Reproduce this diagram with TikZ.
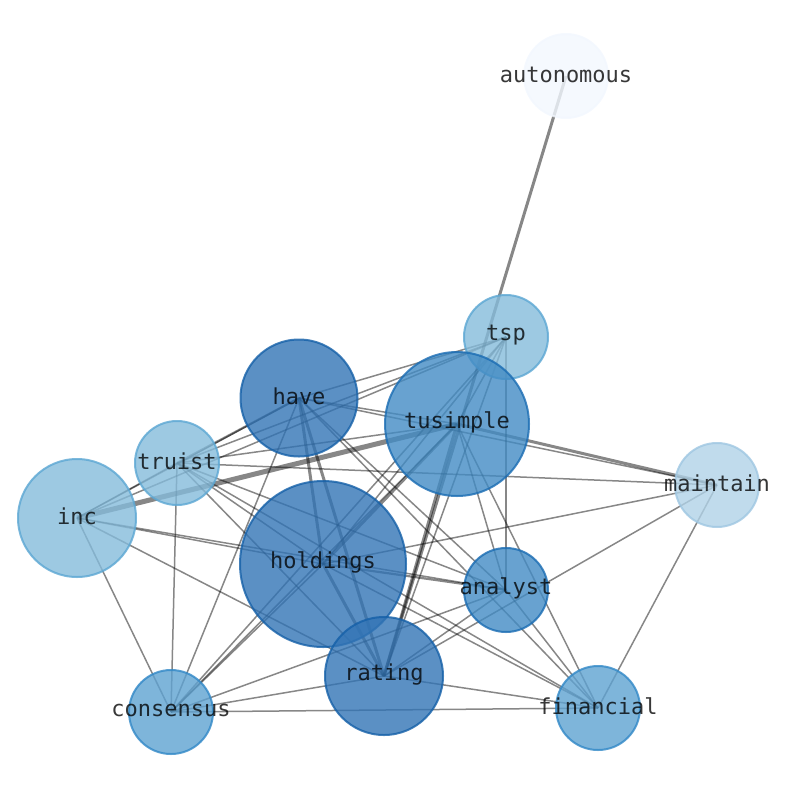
\documentclass[tikz,border=0pt]{standalone}
\usepackage{fontspec}
\setmonofont{DejaVu Sans Mono}
\usetikzlibrary{backgrounds}
\definecolor{fA}{HTML}{F2F7FE}\definecolor{oA}{HTML}{F2F7FE}
\definecolor{fM}{HTML}{B0D2E7}\definecolor{oM}{HTML}{9FC7E2}
\definecolor{fL}{HTML}{84BBDB}\definecolor{oL}{HTML}{5CA7D3}
\definecolor{fC}{HTML}{5EA2D1}\definecolor{oC}{HTML}{3188C7}
\definecolor{fT}{HTML}{428BC4}\definecolor{oT}{HTML}{1A6CB3}
\definecolor{fD}{HTML}{3274B5}\definecolor{oD}{HTML}{1560A8}
\begin{document}
\begin{tikzpicture}[x=1pt,y=-1pt,
  edge/.style={draw=black,draw opacity=0.47,line width=1.5pt},
  w2/.style={line width=2.2pt},
  w3/.style={line width=3pt},
  w5/.style={line width=5pt},
  nd/.style={circle,inner sep=0pt,fill opacity=0.8,draw opacity=0.8,line width=2pt},
  lab/.style={text=black,text opacity=0.78,inner sep=0pt,font=\ttfamily\fontsize{22}{24}\selectfont}]
\useasboundingbox (0,0) rectangle (794,790);
\node[nd,minimum size=84pt,fill=fA,draw=oA] (autonomous) at (566,76) {};
\node[nd,minimum size=84pt,fill=fL,draw=oL] (tsp) at (506,337) {};
\node[nd,minimum size=117pt,fill=fD,draw=oD] (have) at (299,398) {};
\node[nd,minimum size=144pt,fill=fT,draw=oT] (tusimple) at (457,424) {};
\node[nd,minimum size=84pt,fill=fL,draw=oL] (truist) at (177,463) {};
\node[nd,minimum size=118pt,fill=fL,draw=oL] (inc) at (77,518) {};
\node[nd,minimum size=84pt,fill=fM,draw=oM] (maintain) at (717,485) {};
\node[nd,minimum size=166pt,fill=fD,draw=oD] (holdings) at (323,564) {};
\node[nd,minimum size=84pt,fill=fT,draw=oT] (analyst) at (506,590) {};
\node[nd,minimum size=118pt,fill=fD,draw=oD] (rating) at (384,676) {};
\node[nd,minimum size=84pt,fill=fC,draw=oC] (consensus) at (171,712) {};
\node[nd,minimum size=84pt,fill=fC,draw=oC] (financial) at (598,708) {};
\node[lab] (l-autonomous) at ([yshift=1.5pt]autonomous.center) {autonomous};
\node[lab] (l-tsp) at ([yshift=1.5pt]tsp.center) {tsp};
\node[lab] (l-have) at ([yshift=1.5pt]have.center) {have};
\node[lab] (l-tusimple) at ([yshift=1.5pt]tusimple.center) {tusimple};
\node[lab] (l-truist) at ([yshift=1.5pt]truist.center) {truist};
\node[lab] (l-inc) at ([yshift=1.5pt]inc.center) {inc};
\node[lab] (l-maintain) at ([yshift=1.5pt]maintain.center) {maintain};
\node[lab] (l-holdings) at ([yshift=1.5pt]holdings.center) {holdings};
\node[lab] (l-analyst) at ([yshift=1.5pt]analyst.center) {analyst};
\node[lab] (l-rating) at ([yshift=1.5pt]rating.center) {rating};
\node[lab] (l-consensus) at ([yshift=1.5pt]consensus.center) {consensus};
\node[lab] (l-financial) at ([yshift=1.5pt]financial.center) {financial};
\begin{scope}[on background layer]
\foreach \a/\b/\s in {autonomous/rating/w3, inc/tusimple/w5, tusimple/maintain/w3,
  have/maintain/edge, have/tusimple/edge, tsp/have/edge, tsp/truist/edge, tsp/inc/edge,
  tsp/tusimple/edge, tsp/holdings/edge, tsp/rating/edge, tsp/analyst/edge, tsp/consensus/edge,
  tusimple/holdings/w3, tusimple/rating/w3, tusimple/analyst/edge, tusimple/financial/edge,
  tusimple/consensus/edge, tusimple/truist/edge,
  have/truist/w2, have/inc/edge, have/holdings/w3, have/rating/w3, have/analyst/edge,
  have/financial/edge, have/consensus/edge,
  truist/inc/edge, truist/maintain/edge, truist/holdings/edge, truist/analyst/edge,
  truist/rating/edge, truist/financial/edge, truist/consensus/edge,
  inc/holdings/edge, inc/analyst/edge, inc/rating/edge, inc/consensus/edge,
  holdings/maintain/edge, holdings/analyst/w2, holdings/rating/w3, holdings/financial/edge,
  holdings/consensus/edge, maintain/rating/edge, maintain/financial/edge,
  analyst/rating/edge, analyst/financial/edge, analyst/consensus/edge,
  rating/consensus/edge, rating/financial/edge, consensus/financial/edge}
  \draw[edge,\s] (\a.center) -- (\b.center);
\end{scope}
\end{tikzpicture}
\end{document}
